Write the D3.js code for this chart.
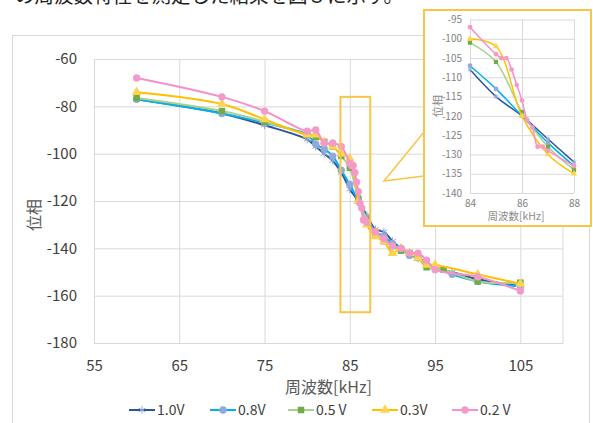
<!DOCTYPE html>
<html>
<head>
<meta charset="utf-8">
<script src="https://cdn.jsdelivr.net/npm/d3@7"></script>
<style>
  body { margin: 0; background: #fff; }
  svg text { font-family: "Noto Sans CJK JP", "Noto Sans", sans-serif; }
</style>
</head>
<body>
<div id="chart"></div>
<script>
// series labels
const seriesNames = ["1.0V", "0.8V", "0.5 V", "0.3V", "0.2 V"];

// frequencies [kHz] per series
const freq10 = [60, 70, 75, 80, 81, 82, 83, 84, 85, 86, 87, 88, 89, 90, 91, 92, 93, 94, 95, 97, 100, 105];
const freq08 = [60, 70, 75, 80, 81, 82, 83, 84, 85, 86, 87, 88, 89, 90, 91, 92, 93, 94, 95, 97, 100, 105];
const freq05 = [60, 70, 75, 80, 81, 82, 83, 84, 85, 86, 87, 88, 89, 90, 91, 92, 93, 94, 96, 100, 105];
const freq03 = [60, 70, 75, 80, 81, 82, 83, 84, 85, 86, 87, 88, 89, 90, 91, 92, 93, 94, 95, 100, 105];
const freq02 = [60, 70, 75, 80, 81, 82, 83, 84, 85, 85.2, 85.4, 85.6, 85.8, 86, 86.2, 86.4, 86.6, 86.8, 87, 88, 89, 90, 91, 92, 93, 94, 95, 100, 105];

// phase [deg]
const phase10 = [-77, -83, -88, -94, -97, -100, -103, -108, -115, -120, -126, -132, -133, -137, -140, -142, -144, -146, -148, -150, -153, -156];
const phase08 = [-77, -83, -87, -92, -96, -98, -101, -107, -113, -120, -127, -133, -135, -138, -140, -143, -144, -147, -148, -151, -154, -156];
const phase05 = [-76.5, -82, -86.5, -92, -93, -95, -97, -101, -106, -119, -128, -134, -137, -139, -141, -142, -144, -148, -149, -154, -154.5];
const phase03 = [-74, -79, -85.5, -92, -92, -95, -97, -100, -102, -120, -130, -135, -137, -142, -140, -142, -144, -147, -147, -151, -155];
const phase02 = [-68, -76, -82, -90.5, -90, -95.5, -95.5, -97, -104, -105, -105, -108, -112, -116, -121, -123, -128, -128, -129, -133, -136, -139, -140, -142, -142, -145, -149, -152, -158];

// ticks
const xTicks = [55, 65, 75, 85, 95, 105];
const yTicks = [-60, -80, -100, -120, -140, -160, -180];
const insetXTicks = [84, 86, 88];
const insetYTicks = [-95, -100, -105, -110, -115, -120, -125, -130, -135, -140];

const lineColors = ["#2F5597", "#00B0F0", "#A9D18E", "#FFC000", "#F78FCB"];
const markColors = ["#8FAADC", "#8FAADC", "#70AD47", "#FFD34F", "#F49AC9"];
const markTypes = [d3.symbolAsterisk, d3.symbolCircle, d3.symbolSquare, d3.symbolTriangle, d3.symbolCircle];
const gold = "#F8C547";
const plain = d => String(d); // hyphen minus like the original

const allFreq = [freq10, freq08, freq05, freq03, freq02];
const allPhase = [phase10, phase08, phase05, phase03, phase02];
const series = seriesNames.map((name, i) => ({
  name: name,
  i: i,
  pts: allFreq[i].map((f, j) => ({ f: f, p: allPhase[i][j] }))
}));

const svg = d3.select("#chart").append("svg")
  .attr("width", 593)
  .attr("height", 423);

// cut-off sentence above the chart
svg.append("text")
  .attr("x", 15).attr("y", 3)
  .attr("font-size", 19.5)
  .attr("fill", "#222")
  .text("の周波数特性を測定した結果を図５に示す。");

// chart frame
svg.append("rect")
  .attr("x", 12.5).attr("y", 35.5)
  .attr("width", 577).attr("height", 400)
  .attr("fill", "none")
  .attr("stroke", "#D9D9D9");

// ---- main chart ----
const x = d3.scaleLinear().domain([55, 110]).range([94, 563]);
const y = d3.scaleLinear().domain([-180, -60]).range([343, 59]);

const gx = svg.append("g")
  .attr("transform", "translate(0,343)")
  .call(d3.axisBottom(x).tickValues(xTicks).tickFormat(plain).tickSize(-(343 - 59)).tickPadding(17));
const gy = svg.append("g")
  .attr("transform", "translate(94,0)")
  .call(d3.axisLeft(y).tickValues(yTicks).tickFormat(plain).tickSize(-(563 - 94)).tickPadding(17));

[gx, gy].forEach(g => {
  g.select(".domain").remove();
  g.selectAll("line").attr("stroke", "#D9D9D9");
  g.selectAll("text").attr("font-size", 15).attr("fill", "#404040");
});

// right border of plot area
svg.append("line")
  .attr("x1", x(110)).attr("x2", x(110))
  .attr("y1", y(-60)).attr("y2", y(-180))
  .attr("stroke", "#D9D9D9");

svg.append("text")
  .attr("x", (94 + 563) / 2).attr("y", 393)
  .attr("text-anchor", "middle")
  .attr("font-size", 16).attr("fill", "#595959")
  .text("周波数[kHz]");

svg.append("text")
  .attr("transform", "translate(40,215) rotate(-90)")
  .attr("text-anchor", "middle")
  .attr("font-size", 16).attr("fill", "#595959")
  .text("位相");

function drawSeries(g, sx, sy, data, lw, msize) {
  const line = d3.line()
    .x(d => sx(d.f))
    .y(d => sy(d.p))
    .curve(d3.curveCatmullRom.alpha(0.5));

  data.forEach(s => {
    g.append("path")
      .datum(s.pts)
      .attr("d", line)
      .attr("fill", "none")
      .attr("stroke", lineColors[s.i])
      .attr("stroke-width", lw);

    const sym = d3.symbol().type(markTypes[s.i]).size(msize);
    const stroked = markTypes[s.i] === d3.symbolAsterisk;
    g.selectAll(null)
      .data(s.pts)
      .enter()
      .append("path")
      .attr("transform", d => "translate(" + sx(d.f) + "," + sy(d.p) + ")")
      .attr("d", sym)
      .attr("fill", stroked ? "none" : markColors[s.i])
      .attr("stroke", stroked ? markColors[s.i] : "none")
      .attr("stroke-width", 1);
  });
}

const gMain = svg.append("g");
drawSeries(gMain, x, y, series, 2, 42);

// highlight box + callout
svg.append("rect")
  .attr("x", x(83.9)).attr("y", y(-76))
  .attr("width", x(87.4) - x(83.9))
  .attr("height", y(-167) - y(-76))
  .attr("fill", "none")
  .attr("stroke", gold)
  .attr("stroke-width", 2);

svg.append("path")
  .attr("d", "M424,132 L384,181 L424,176")
  .attr("fill", "none")
  .attr("stroke", gold)
  .attr("stroke-width", 1.5);

// ---- legend ----
const legendX = [129, 210, 288, 372, 452];
const legend = svg.append("g");
series.forEach(s => {
  const lx = legendX[s.i];
  legend.append("line")
    .attr("x1", lx).attr("x2", lx + 26)
    .attr("y1", 410).attr("y2", 410)
    .attr("stroke", lineColors[s.i])
    .attr("stroke-width", 2);
  const stroked = markTypes[s.i] === d3.symbolAsterisk;
  legend.append("path")
    .attr("transform", "translate(" + (lx + 13) + ",410)")
    .attr("d", d3.symbol().type(markTypes[s.i]).size(42))
    .attr("fill", stroked ? "none" : markColors[s.i])
    .attr("stroke", stroked ? markColors[s.i] : "none");
  legend.append("text")
    .attr("x", lx + 28).attr("y", 415)
    .attr("font-size", 14).attr("fill", "#404040")
    .text(s.name);
});

// ---- inset (84-88 kHz zoom) ----
svg.append("rect")
  .attr("x", 424).attr("y", 10)
  .attr("width", 167).attr("height", 216)
  .attr("fill", "#fff")
  .attr("stroke", gold)
  .attr("stroke-width", 2);

const ix = d3.scaleLinear().domain([84, 88]).range([470, 574]);
const iy = d3.scaleLinear().domain([-140, -95]).range([193, 19.5]);

const igx = svg.append("g")
  .attr("transform", "translate(0,193)")
  .call(d3.axisBottom(ix).tickValues(insetXTicks).tickFormat(plain).tickSize(-(193 - 19.5)).tickPadding(7));
const igy = svg.append("g")
  .attr("transform", "translate(470,0)")
  .call(d3.axisLeft(iy).tickValues(insetYTicks).tickFormat(plain).tickSize(-(574 - 470)).tickPadding(8));

[igx, igy].forEach(g => {
  g.select(".domain").remove();
  g.selectAll("line").attr("stroke", "#D9D9D9");
  g.selectAll("text").attr("font-size", 10).attr("fill", "#7F7F7F");
});

svg.append("text")
  .attr("x", 516).attr("y", 220)
  .attr("text-anchor", "middle")
  .attr("font-size", 10.5).attr("fill", "#8C8C8C")
  .text("周波数[kHz]");

svg.append("text")
  .attr("transform", "translate(442,106) rotate(-90)")
  .attr("text-anchor", "middle")
  .attr("font-size", 11).attr("fill", "#8C8C8C")
  .text("位相");

svg.append("clipPath").attr("id", "insetClip")
  .append("rect")
  .attr("x", 466).attr("y", 16)
  .attr("width", 112).attr("height", 181);

const insetData = series.map(s => ({
  name: s.name,
  i: s.i,
  pts: s.pts.filter(d => d.f >= 84 && d.f <= 88)
}));

const gInset = svg.append("g").attr("clip-path", "url(#insetClip)");
drawSeries(gInset, ix, iy, insetData, 1.5, 18);
</script>
</body>
</html>
